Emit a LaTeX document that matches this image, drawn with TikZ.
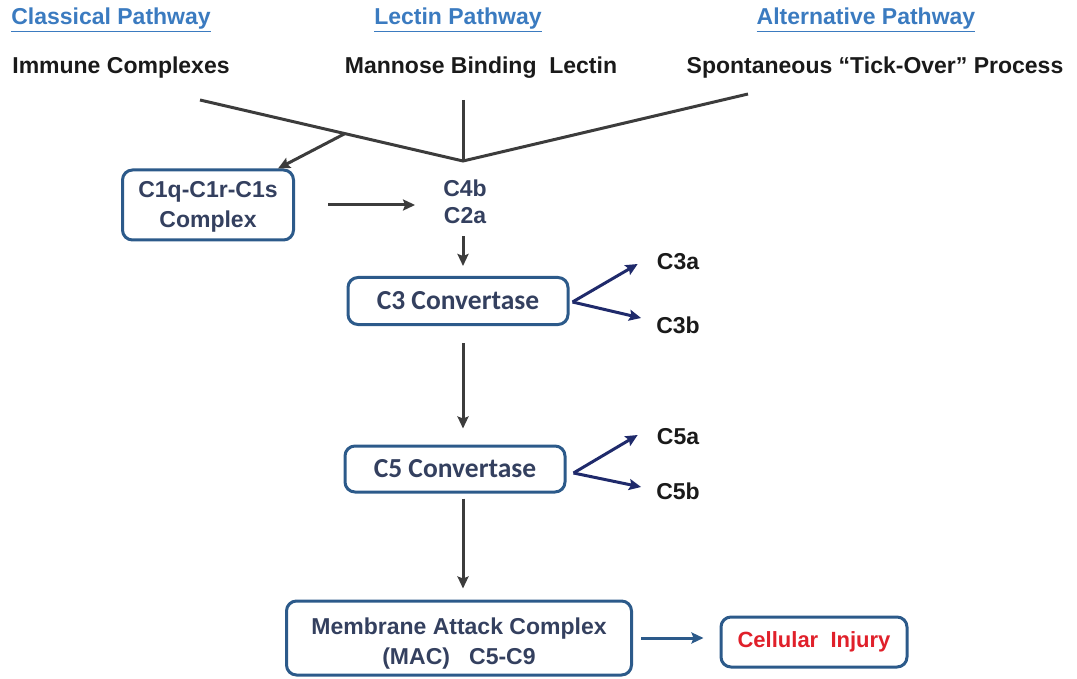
\documentclass[tikz,border=0pt]{standalone}
\usepackage{fontspec}
\setmainfont{Liberation Sans}
\newfontfamily\calib{Carlito}
\usetikzlibrary{arrows.meta,calc}
\definecolor{titleblue}{HTML}{3B7BC0}
\definecolor{srcblack}{HTML}{1A1A1A}
\definecolor{boxblue}{HTML}{2C5A8A}
\definecolor{navytxt}{HTML}{34405F}
\definecolor{linegray}{HTML}{3C3C3C}
\definecolor{splitnavy}{HTML}{1F2A6B}
\definecolor{injred}{HTML}{E0202A}
\tikzset{
  pathtitle/.style={font=\fontsize{23}{26}\selectfont\bfseries, text=titleblue, inner sep=0pt},
  srctext/.style={font=\fontsize{23}{26}\selectfont\bfseries, text=srcblack, inner sep=0pt},
  stagebox/.style={draw=boxblue, line width=3pt, rounded corners=10pt, text=navytxt, align=center, font=\fontsize{23}{30}\selectfont\bfseries, inner sep=0pt},
  convbox/.style={stagebox, font=\calib\fontsize{27.5}{30}\selectfont\bfseries},
  plaintxt/.style={text=navytxt, align=center, font=\fontsize{23}{27}\selectfont\bfseries, inner sep=0pt},
  prodtxt/.style={text=srcblack, font=\fontsize{23}{26}\selectfont\bfseries, inner sep=0pt},
  joinline/.style={draw=linegray, line width=3pt},
  conn/.style={draw=linegray, line width=3pt, -{Stealth[length=12pt,width=11pt,inset=2pt]}},
  splitarrow/.style={draw=splitnavy, line width=3pt, -{Stealth[length=12pt,width=11pt,inset=2pt]}},
  injarrow/.style={draw=boxblue, line width=3pt, -{Stealth[length=12pt,width=11pt,inset=2pt]}}
}
\begin{document}
\begin{tikzpicture}[x=1pt,y=-1pt]
\useasboundingbox (0,0) rectangle (1077,679);
% titles
\node[pathtitle] (ct) at (111,20) {\underline{Classical Pathway}};
\node[pathtitle] (lt) at (458,20) {\underline{Lectin Pathway}};
\node[pathtitle] (at) at (866,20) {\underline{Alternative Pathway}};
% sources
\node[srctext] (ic) at (121,68) {Immune Complexes};
\node[srctext] (mbl) at (481,68) {Mannose Binding\ \ Lectin};
\node[srctext] (sp) at (875,68) {Spontaneous “Tick-Over” Process};
% junction lines
\coordinate (l1) at (200,100);
\coordinate (l2) at (463,100);
\coordinate (l3) at (748,94);
\coordinate (j) at (463,161);
\coordinate (br) at ($(l1)!0.551!(j)$);
\draw[joinline] (l1) -- (j) -- (l3);
\draw[joinline] (l2) -- (j);
% boxes
\node[stagebox, minimum width=171pt, minimum height=70pt] (c1q) at (208,205) {};
\node[plaintxt, font=\fontsize{23}{30}\selectfont\bfseries] (c1qtxt) at (208,207) {C1q-C1r-C1s\\Complex};
\node[plaintxt] (c4b) at (465,202) {C4b\\C2a};
\node[convbox, minimum width=220pt, minimum height=47pt] (c3) at (458,301) {C3 Convertase};
\node[convbox, minimum width=220pt, minimum height=46pt] (c5) at (455,469) {C5 Convertase};
\node[stagebox, minimum width=345pt, minimum height=74pt] (mac) at (459,638) {};
\node[plaintxt, font=\fontsize{23}{30}\selectfont\bfseries] (mactxt) at (459,644) {Membrane Attack Complex\\(MAC)\ \ \ C5-C9};
\node[stagebox, text=injred, font=\fontsize{22}{26}\selectfont\bfseries, minimum width=186pt, minimum height=50pt] (ci) at (814,642) {Cellular\ \ Injury};
% products
\node[prodtxt] (c3a) at (678,262) {C3a};
\node[prodtxt] (c3b) at (678,325) {C3b};
\node[prodtxt] (c5a) at (678,437) {C5a};
\node[prodtxt] (c5b) at (678,491) {C5b};
% connectors
\draw[conn] (br) -- ($(c1q.north east)+(-17,0)$);
\draw[conn, shorten <=33pt, shorten >=28pt] (c1q.east) -- (c1q.east -| c4b.west);
\draw[conn, shorten <=12pt, shorten >=10pt] (c4b.south -| j) -- (c3.north -| j);
\draw[conn, shorten <=17pt, shorten >=16pt] (c3.south -| j) -- (c5.north -| j);
\draw[conn, shorten <=5pt, shorten >=11pt] (c5.south -| j) -- (mac.north -| j);
\draw[injarrow, shorten <=8pt, shorten >=16pt] (mac.east |- ci.west) ++(0,-4) -- ($(ci.west)+(0,-4)$);
\draw[splitarrow] ([xshift=3pt,yshift=-1pt]c3.east) -- ([xshift=-19pt,yshift=-2pt]c3a.west);
\draw[splitarrow] ([xshift=3pt,yshift=-1pt]c3.east) -- ([xshift=-15pt,yshift=7pt]c3b.west);
\draw[splitarrow] ([xshift=7pt,yshift=-4pt]c5.east) -- ([xshift=-19pt,yshift=2pt]c5a.west);
\draw[splitarrow] ([xshift=7pt,yshift=-4pt]c5.east) -- ([xshift=-15pt,yshift=4pt]c5b.west);
\end{tikzpicture}
\end{document}
